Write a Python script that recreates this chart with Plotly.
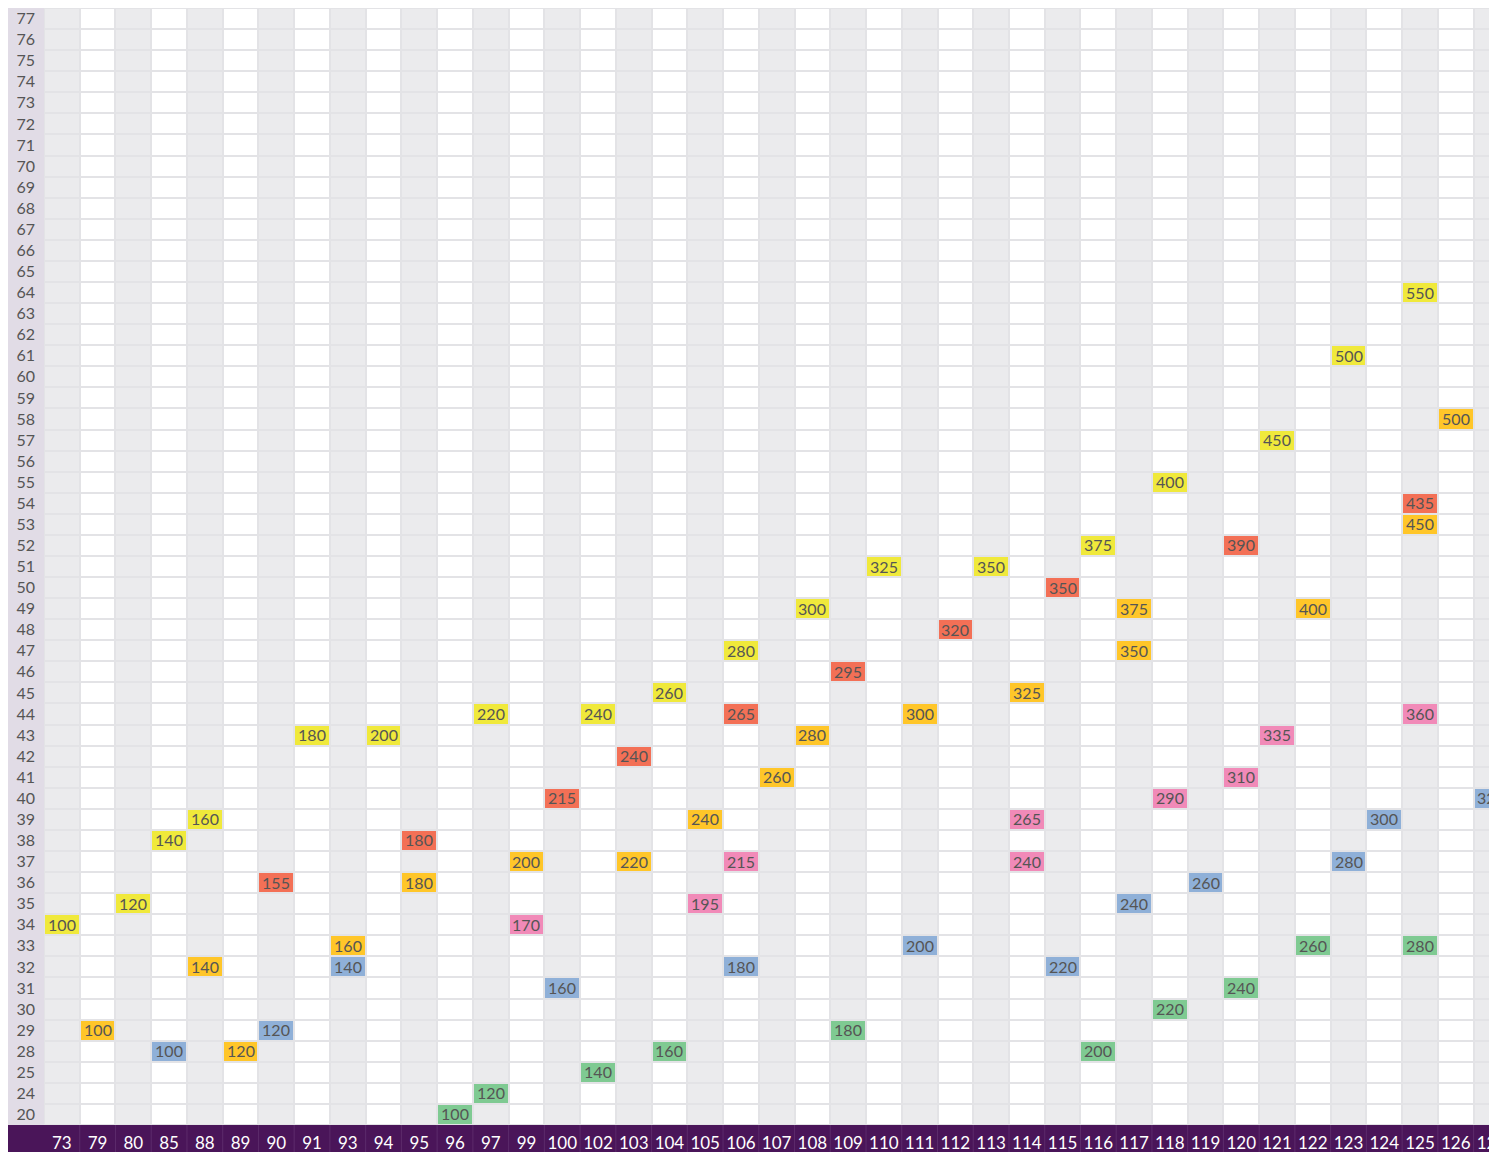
import plotly.graph_objects as go

# ---------------- data ----------------
x_categories = [73, 79, 80, 85, 88, 89, 90, 91, 93, 94, 95, 96, 97, 99, 100, 102, 103, 104,
                 105, 106, 107, 108, 109, 110, 111, 112, 113, 114, 115, 116, 117, 118, 119,
                 120, 121, 122, 123, 124, 125, 126, 127]
y_categories = [20, 24, 25, 28, 29, 30, 31, 32, 33, 34, 35, 36, 37, 38, 39, 40, 41, 42, 43,
                44, 45, 46, 47, 48, 49, 50, 51, 52, 53, 54, 55, 56, 57, 58, 59, 60, 61, 62,
                63, 64, 65, 66, 67, 68, 69, 70, 71, 72, 73, 74, 75, 76, 77]

yellow_x = [73, 80, 85, 88, 91, 94, 97, 102, 104, 106, 108, 110, 113, 116, 118, 121, 123, 125]
yellow_y = [34, 35, 38, 39, 43, 43, 44, 44, 45, 47, 49, 51, 51, 52, 55, 57, 61, 64]
yellow_v = [100, 120, 140, 160, 180, 200, 220, 240, 260, 280, 300, 325, 350, 375, 400, 450, 500, 550]

amber_x = [79, 88, 89, 93, 95, 99, 103, 105, 107, 108, 111, 114, 117, 117, 122, 125, 126]
amber_y = [29, 32, 28, 33, 36, 37, 37, 39, 41, 43, 44, 45, 47, 49, 49, 53, 58]
amber_v = [100, 140, 120, 160, 180, 200, 220, 240, 260, 280, 300, 325, 350, 375, 400, 450, 500]

red_x = [90, 95, 100, 103, 106, 109, 112, 115, 120, 125]
red_y = [36, 38, 40, 42, 44, 46, 48, 50, 52, 54]
red_v = [155, 180, 215, 240, 265, 295, 320, 350, 390, 435]

pink_x = [99, 105, 106, 114, 114, 118, 120, 121, 125]
pink_y = [34, 35, 37, 37, 39, 40, 41, 43, 44]
pink_v = [170, 195, 215, 240, 265, 290, 310, 335, 360]

blue_x = [85, 90, 93, 100, 106, 111, 115, 117, 119, 123, 124, 127]
blue_y = [28, 29, 32, 31, 32, 33, 32, 35, 36, 37, 39, 40]
blue_v = [100, 120, 140, 160, 180, 200, 220, 240, 260, 280, 300, 320]

green_x = [96, 97, 102, 104, 109, 116, 118, 120, 122, 125]
green_y = [20, 24, 25, 28, 29, 28, 30, 31, 33, 33]
green_v = [100, 120, 140, 160, 180, 200, 220, 240, 260, 280]

series = [
    (yellow_x, yellow_y, yellow_v, "#f0e93b"),
    (amber_x, amber_y, amber_v, "#ffc629"),
    (red_x, red_y, red_v, "#f37056"),
    (pink_x, pink_y, pink_v, "#f18ab8"),
    (blue_x, blue_y, blue_v, "#8fb0d8"),
    (green_x, green_y, green_v, "#7fca92"),
]

# ---------------- styling ----------------
W, H = 1489, 1144
ML, MR, MT, MB = 36, 0, 0, 27
PW, PH = W - ML - MR, H - MT - MB
COL_PX = 35.74
FONT = "Lato, 'Open Sans', sans-serif"
GRID = "#e3e3e6"
STRIPE = "#ebebed"
PURPLE = "#4a1559"
BAND = "#e1dce6"
TEXT = "#555555"

nx, ny = len(x_categories), len(y_categories)
xs = [str(v) for v in x_categories]
ys = [str(v) for v in y_categories]

# background stripes
bg_z = [[c % 2 for c in range(nx)] for _ in range(ny)]

# coloured cells
cell_z = [[None] * nx for _ in range(ny)]
cell_t = [[""] * nx for _ in range(ny)]
for k, (sx, sy, sv, _) in enumerate(series):
    for a, b, v in zip(sx, sy, sv):
        ci = x_categories.index(a)
        ri = y_categories.index(b)
        cell_z[ri][ci] = k
        cell_t[ri][ci] = str(v)

n = len(series)
cscale = []
for k, (_, _, _, col) in enumerate(series):
    cscale.append([k / n, col])
    cscale.append([(k + 1) / n, col])

fig = go.Figure()
fig.add_trace(go.Heatmap(
    x=xs, y=ys, z=bg_z, zmin=0, zmax=1,
    colorscale=[[0, STRIPE], [1, "#ffffff"]],
    xgap=2, ygap=2, showscale=False, hoverinfo="skip",
))
fig.add_trace(go.Heatmap(
    x=xs, y=ys, z=cell_z, zmin=-0.5, zmax=n - 0.5,
    colorscale=cscale, text=cell_t, texttemplate="%{text}",
    textfont=dict(family=FONT, size=16, color=TEXT),
    xgap=2, ygap=2, showscale=False, hoverinfo="skip",
))

shapes = []
# left label band
shapes.append(dict(type="rect", xref="paper", yref="paper",
                   x0=-ML / PW, x1=0, y0=0, y1=1,
                   fillcolor=BAND, line=dict(width=0), layer="below"))
# bottom purple bar
shapes.append(dict(type="rect", xref="paper", yref="paper",
                   x0=-ML / PW, x1=1.05, y0=-MB / PH, y1=0,
                   fillcolor=PURPLE, line=dict(width=0), layer="below"))
# dividers in the purple bar
for i in range(nx):
    shapes.append(dict(type="line", xref="x", yref="paper",
                       x0=i + 0.5, x1=i + 0.5, y0=-MB / PH, y1=0,
                       line=dict(color="#5c2b6b", width=1), layer="below"))

fig.update_layout(
    width=W, height=H,
    margin=dict(l=ML, r=MR, t=MT, b=MB, pad=0, autoexpand=False),
    paper_bgcolor="#ffffff", plot_bgcolor=GRID,
    font=dict(family=FONT, color=TEXT),
    shapes=shapes, showlegend=False,
)
fig.update_xaxes(type="category", categoryorder="array", categoryarray=xs,
                 range=[-0.5, -0.5 + PW / COL_PX], showgrid=False, zeroline=False,
                 ticks="", tickfont=dict(family=FONT, size=17, color="#ffffff"),
                 ticklabelstandoff=6, automargin=False, fixedrange=True)
fig.update_yaxes(type="category", categoryorder="array", categoryarray=ys,
                 range=[-0.5, ny - 0.5], showgrid=False, zeroline=False,
                 ticks="", tickfont=dict(family=FONT, size=16, color=TEXT),
                 ticklabelstandoff=8, automargin=False, fixedrange=True)

fig.write_html("out.html")
